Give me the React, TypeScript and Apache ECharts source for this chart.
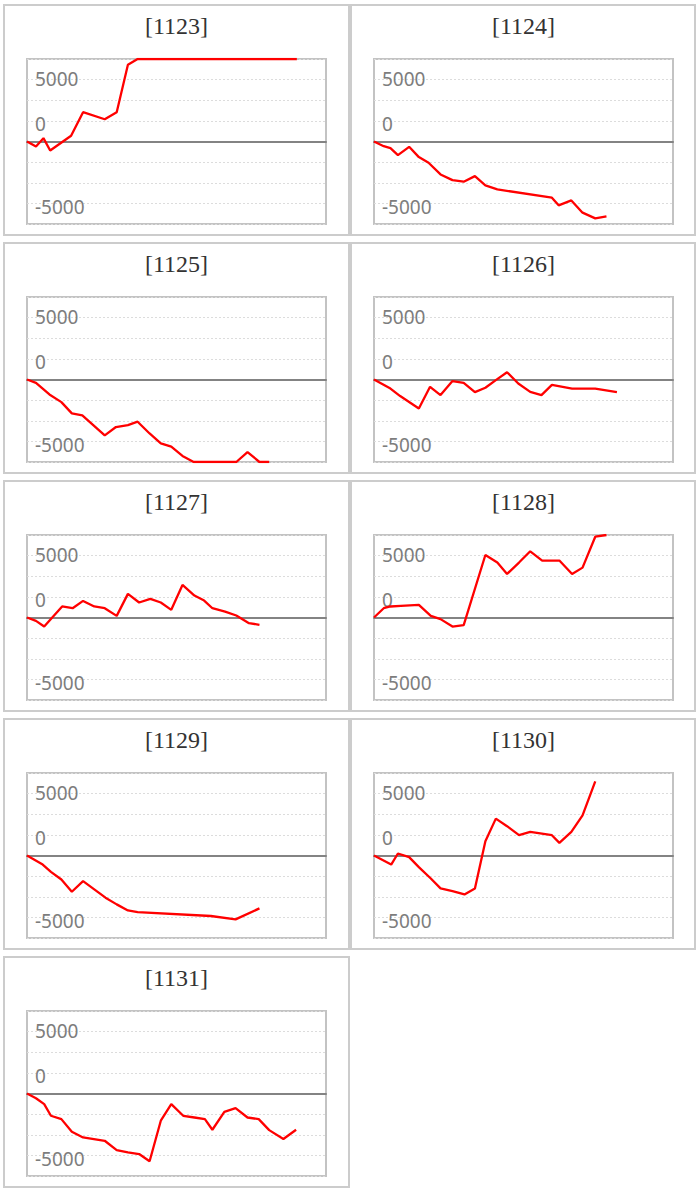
import React, { useEffect, useRef } from "react";
import * as echarts from "echarts";

// Panel titles
const titles = ["[1123]", "[1124]", "[1125]", "[1126]", "[1127]", "[1128]", "[1129]", "[1130]", "[1131]"];

// Time (minutes from session start) and cumulative values per panel
const t1123 = [0, 12, 22, 31, 59, 75, 104, 120, 135, 148, 361];
const v1123 = [0, -400, 270, -730, 460, 2370, 1800, 2370, 6200, 6667, 6667];

const t1124 = [0, 13, 22, 32, 47, 60, 73, 89, 105, 120, 135, 149, 165, 238, 247, 264, 279, 296, 311];
const v1124 = [0, -380, -540, -1100, -430, -1260, -1720, -2660, -3120, -3250, -2800, -3550, -3870, -4540, -5160, -4760, -5750, -6210, -6050];

const t1125 = [0, 12, 30, 46, 60, 74, 89, 104, 119, 135, 148, 164, 179, 193, 208, 223, 280, 295, 311, 324];
const v1125 = [0, -270, -1210, -1830, -2740, -2900, -3710, -4520, -3840, -3680, -3410, -4360, -5160, -5430, -6180, -6667, -6667, -5860, -6667, -6667];

const t1126 = [0, 22, 35, 60, 75, 89, 105, 120, 135, 149, 163, 178, 193, 209, 224, 238, 265, 296, 325];
const v1126 = [0, -730, -1340, -2340, -590, -1260, -130, -270, -1020, -670, -50, 590, -320, -1000, -1260, -430, -730, -730, -1020];

const t1127 = [0, 12, 23, 47, 61, 75, 90, 104, 120, 135, 150, 165, 179, 193, 208, 224, 237, 248, 265, 280, 297, 311];
const v1127 = [0, -270, -730, 890, 750, 1340, 890, 750, 130, 1910, 1210, 1510, 1210, 620, 2630, 1770, 1370, 750, 480, 160, -460, -590];

const t1128 = [0, 13, 22, 36, 60, 76, 89, 105, 120, 149, 165, 178, 194, 209, 225, 248, 265, 279, 296, 311];
const v1128 = [0, 750, 890, 940, 1020, 130, -130, -730, -620, 5050, 4440, 3520, 4440, 5350, 4600, 4600, 3520, 4030, 6530, 6667];

const t1129 = [0, 21, 32, 46, 60, 75, 90, 105, 120, 135, 148, 246, 279, 311];
const v1129 = [0, -730, -1320, -1940, -2930, -2070, -2740, -3410, -3950, -4440, -4570, -4890, -5160, -4270];

const t1130 = [0, 23, 32, 47, 60, 76, 89, 105, 121, 135, 149, 163, 178, 194, 209, 238, 248, 264, 279, 296];
const v1130 = [0, -730, 160, -130, -940, -1860, -2660, -2880, -3150, -2660, 1160, 2980, 2370, 1640, 1910, 1640, 1020, 1910, 3250, 5990];

const t1131 = [0, 12, 23, 32, 46, 60, 75, 104, 120, 135, 150, 164, 179, 193, 209, 224, 238, 248, 264, 279, 295, 310, 324, 343, 360];
const v1131 = [0, -380, -860, -1800, -2070, -3090, -3550, -3820, -4570, -4760, -4890, -5480, -2200, -860, -1800, -1940, -2070, -2930, -1480, -1180, -1940, -2070, -2960, -3680, -2930];

const times = [t1123, t1124, t1125, t1126, t1127, t1128, t1129, t1130, t1131];
const values = [v1123, v1124, v1125, v1126, v1127, v1128, v1129, v1130, v1131];

// Axis settings
const xMin = 0;
const xMax = 400;
const yStep = 5000 / 3;
const yMin = -4 * yStep;
const yMax = 4 * yStep;
// Tick labels as shown in the picture: [gridline value, text, style]
const yTickLabels: [number, string, string][] = [
  [5000, "5000", "up"],
  [5000 / 3, "0", "dn"],
  [-5000, "-5000", "dn"],
];

export default function App() {
  const ref = useRef<HTMLDivElement>(null);

  useEffect(() => {
    if (!ref.current) return;
    const chart = echarts.init(ref.current, undefined, { renderer: "svg" });

    const colLeft = [27, 374];
    const panelLeft = [3, 350];
    const panelWidth = [347, 346];
    const gridW = 299;
    const gridH = 165;
    const rowStep = 238;
    const labelFont = { fontFamily: '"Noto Sans", "Open Sans", sans-serif', fontSize: 19, color: "#7d7d7d" };

    const grids: any[] = [];
    const xAxes: any[] = [];
    const yAxes: any[] = [];
    const series: any[] = [];
    const graphics: any[] = [];

    titles.forEach((title, i) => {
      const col = i % 2;
      const row = Math.floor(i / 2);
      const gTop = 59 + row * rowStep;
      const pTop = 4 + row * rowStep;
      grids.push({
        left: colLeft[col],
        top: gTop,
        width: gridW,
        height: gridH,
        show: true,
        borderColor: "#c3c3c3",
        borderWidth: 2,
        backgroundColor: "transparent",
      });
      xAxes.push({
        type: "value",
        gridIndex: i,
        min: xMin,
        max: xMax,
        axisLine: { show: true, onZero: true, lineStyle: { color: "#838383", width: 2 } },
        axisTick: { show: false },
        axisLabel: { show: false },
        splitLine: { show: false },
      });
      yAxes.push({
        type: "value",
        gridIndex: i,
        min: yMin,
        max: yMax,
        interval: yStep,
        axisLine: { show: false },
        axisTick: { show: false },
        splitLine: { show: true, lineStyle: { color: "#dcdcdc", width: 1, type: [2, 2] } },
        axisLabel: {
          inside: true,
          margin: 8,
          ...labelFont,
          showMinLabel: true,
          showMaxLabel: true,
          formatter: (v: number) => {
            const hit = yTickLabels.find((p) => Math.abs(p[0] - v) < 1);
            return hit ? `{${hit[2]}|${hit[1]}}` : "";
          },
          rich: {
            up: { ...labelFont, padding: [0, 0, 2, 0] },
            dn: { ...labelFont, padding: [7, 0, 0, 0] },
          },
        },
      });
      series.push({
        type: "line",
        xAxisIndex: i,
        yAxisIndex: i,
        data: times[i].map((t, k) => [t, values[i][k]]),
        symbol: "none",
        showSymbol: false,
        clip: true,
        lineStyle: { color: "#ff0000", width: 2.3 },
        itemStyle: { color: "#ff0000" },
      });
      graphics.push({
        type: "rect",
        shape: { x: panelLeft[col] + 1, y: pTop + 1, width: panelWidth[col] - 2, height: 230 },
        style: { fill: "none", stroke: "#cccccc", lineWidth: 2 },
        silent: true,
        z: -1,
      });
      graphics.push({
        type: "text",
        x: colLeft[col] + gridW / 2,
        y: pTop + 22,
        style: {
          text: title,
          fill: "#333333",
          font: '24px "Liberation Serif", serif',
          textAlign: "center",
          textVerticalAlign: "middle",
        },
        silent: true,
      });
    });

    chart.setOption({
      animation: false,
      backgroundColor: "#ffffff",
      grid: grids,
      xAxis: xAxes,
      yAxis: yAxes,
      series,
      graphic: graphics,
    });

    return () => chart.dispose();
  }, []);

  return (
    <div
      ref={ref}
      style={{ position: "absolute", left: 0, top: 0, width: 700, height: 1193 }}
    />
  );
}
